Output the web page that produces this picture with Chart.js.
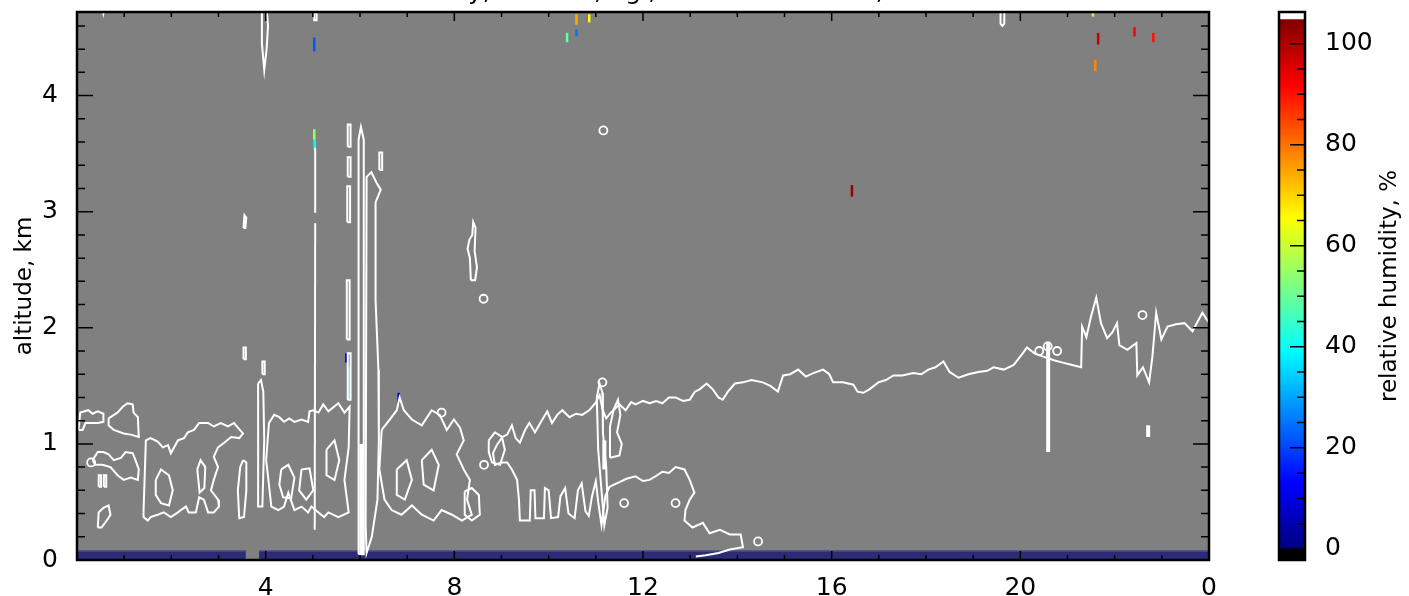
<!DOCTYPE html>
<html>
<head>
<meta charset="utf-8">
<script src="https://cdn.jsdelivr.net/npm/chart.js@4/dist/chart.umd.min.js"></script>
<style>
  html, body { margin: 0; padding: 0; background: #fff; overflow: hidden; }
  #wrap { position: relative; width: 1409px; height: 596px; }
  #main { position: absolute; left: 0; top: 0; }
  #bar { position: absolute; left: 1230px; top: 0; }
</style>
</head>
<body>
<div id="wrap">
  <canvas id="main" width="1229" height="596" style="width:1229px;height:596px"></canvas>
  <canvas id="bar" width="179" height="596" style="width:179px;height:596px"></canvas>
</div>
<script>
// axes
const xRange = [0, 24];
const yRange = [0, 4.72];
const xTickValues = [4, 8, 12, 16, 20, 24];
const xTickLabels = ['4', '8', '12', '16', '20', '0'];
const yTickValues = [0, 1, 2, 3, 4];
const yTickLabels = ['0', '1', '2', '3', '4'];

// colorbar
const cbRange = [-2.2, 106.3];
const rhMax = 104.8;
const cbTickValues = [0, 20, 40, 60, 80, 100];
const cbTickLabels = ['0', '20', '40', '60', '80', '100'];

const titleText = 'relative humidity, 24.6.13, agl, RH contour 80 %, UTC';

// lowest range gate (filled cells)
const stripSpans = [[0, 3.58], [3.86, 24]];
const stripTop = 0.078;

// isolated coloured cells: hour, bottom km, top km, RH %
const speckX    = [5.03, 10.39, 10.59, 10.59, 10.86, 21.54, 21.65, 21.59, 22.42, 22.82, 16.43, 5.03, 5.04, 5.71, 6.82, 5.78, 6.05];
const speckLow  = [4.38, 4.46, 4.51, 4.61, 4.63, 4.68, 4.44, 4.21, 4.51, 4.46, 3.13, 3.62, 3.53, 1.70, 1.35, 1.38, 0.06];
const speckHigh = [4.50, 4.54, 4.57, 4.70, 4.70, 4.72, 4.54, 4.31, 4.59, 4.54, 3.23, 3.71, 3.62, 1.78, 1.44, 1.66, 0.20];
const speckRH   = [22, 50, 25, 74, 65, 58, 97, 78, 92, 90, 102, 55, 40, 8, 10, 40, 40];

// small closed contours (hour, km)
const ringX = [7.73, 8.63, 20.40, 20.58, 20.78, 22.59, 8.62, 11.16, 11.60, 12.69, 14.44, 11.14, 0.30];
const ringY = [1.27, 0.82, 1.80, 1.84, 1.80, 2.11, 2.25, 3.70, 0.49, 0.49, 0.16, 1.53, 0.84];

// contour lines (hour, km)
const blTop = [[8.90,0.99],[9.02,1.06],[9.12,1.08],[9.22,1.16],[9.30,1.05],[9.39,1.01],[9.50,1.12],[9.59,1.18],[9.71,1.10],[9.85,1.20],[9.97,1.28],[10.07,1.18],[10.18,1.25],[10.29,1.29],[10.44,1.23],[10.58,1.26],[10.71,1.25],[10.86,1.29],[10.99,1.35],[11.08,1.42],[11.14,1.30],[11.22,1.22],[11.30,1.26],[11.40,1.30],[11.50,1.34],[11.63,1.29],[11.75,1.36],[11.84,1.34],[12.00,1.37],[12.14,1.35],[12.28,1.37],[12.41,1.35],[12.55,1.40],[12.69,1.40],[12.85,1.37],[12.99,1.38],[13.10,1.45],[13.20,1.47],[13.35,1.52],[13.48,1.47],[13.60,1.40],[13.69,1.38],[13.80,1.45],[13.95,1.52],[14.12,1.53],[14.30,1.55],[14.54,1.53],[14.70,1.50],[14.86,1.45],[14.97,1.59],[15.12,1.60],[15.29,1.64],[15.45,1.58],[15.61,1.61],[15.82,1.64],[15.95,1.60],[16.03,1.53],[16.24,1.53],[16.46,1.51],[16.55,1.45],[16.67,1.44],[16.80,1.47],[16.99,1.53],[17.15,1.55],[17.31,1.59],[17.50,1.59],[17.73,1.61],[17.90,1.60],[18.05,1.64],[18.20,1.66],[18.37,1.71],[18.50,1.62],[18.69,1.57],[18.90,1.60],[19.11,1.62],[19.30,1.63],[19.43,1.66],[19.65,1.64],[19.86,1.68],[20.07,1.79],[20.14,1.83],[20.30,1.78],[20.50,1.75],[20.71,1.72],[20.90,1.70],[21.10,1.68],[21.29,1.66],[21.31,2.01],[21.40,1.92],[21.50,2.10],[21.61,2.26],[21.71,2.04],[21.84,1.91],[21.95,1.96],[22.05,2.04],[22.10,1.85],[22.27,1.81],[22.46,1.87],[22.48,1.59],[22.60,1.66],[22.73,1.53],[22.80,1.75],[22.88,2.13],[22.99,1.90],[23.12,2.01],[23.30,2.03],[23.48,2.04],[23.65,1.97],[23.86,2.13],[24.05,2.01]];
const blLower = [[8.90,0.99],[8.82,0.92],[8.86,0.82],[9.00,0.84],[9.12,0.84],[9.22,0.78],[9.33,0.69],[9.37,0.52],[9.39,0.34],[9.60,0.34],[9.62,0.60],[9.70,0.60],[9.72,0.36],[9.90,0.36],[9.92,0.62],[10.00,0.60],[10.05,0.36],[10.20,0.37],[10.25,0.55],[10.35,0.62],[10.42,0.40],[10.55,0.36],[10.62,0.60],[10.70,0.66],[10.78,0.42],[10.85,0.38],[10.92,0.55],[11.00,0.68],[11.05,0.50],[11.12,0.30],[11.20,0.55],[11.29,0.63],[11.50,0.67],[11.65,0.70],[11.84,0.72],[12.00,0.68],[12.14,0.69],[12.30,0.73],[12.41,0.76],[12.55,0.75],[12.69,0.80],[12.88,0.78],[12.99,0.69],[13.09,0.58],[12.99,0.52],[12.90,0.43],[12.88,0.34],[13.05,0.28],[13.27,0.32],[13.41,0.23],[13.63,0.26],[13.84,0.22],[14.07,0.22],[14.12,0.11],[13.84,0.09],[13.60,0.06],[13.33,0.04],[13.12,0.03]];
const vert5a = [[5.05,3.55],[5.05,2.99]];
const vert5b = [[5.05,2.90],[5.04,0.26]];
const top5 = [[5.03,4.75],[5.03,4.65],[5.08,4.65],[5.08,4.75]];
const top4 = [[3.92,4.75],[3.92,4.45],[3.97,4.22],[4.02,4.40],[4.05,4.60],[4.02,4.75]];
const top19 = [[19.58,4.75],[19.58,4.62],[19.62,4.60],[19.66,4.62],[19.66,4.75]];
const top0 = [[0.54,4.75],[0.56,4.71],[0.58,4.75]];
const vert20 = [[20.59,0.93],[20.59,1.88]];
const thick6 = [[6.03,0.05],[6.03,1.00]];
const thick11 = [[11.18,0.78],[11.18,1.03]];
const blob22 = [[22.71,1.06],[22.71,1.16]];

const loopA = [[0.03,1.12],[0.07,1.27],[0.24,1.29],[0.33,1.26],[0.44,1.28],[0.56,1.26],[0.56,1.19],[0.44,1.18],[0.18,1.18],[0.12,1.12]];
const loopB = [[0.67,1.22],[0.86,1.27],[0.97,1.32],[1.07,1.35],[1.18,1.34],[1.20,1.27],[1.29,1.23],[1.31,1.06],[1.14,1.08],[0.99,1.09],[0.78,1.12],[0.67,1.16]];
const loopC = [[0.33,0.86],[0.44,0.93],[0.56,0.93],[0.67,0.91],[0.78,0.86],[0.93,0.88],[1.03,0.93],[1.18,0.92],[1.24,0.86],[1.31,0.78],[1.29,0.69],[1.14,0.71],[0.99,0.69],[0.86,0.73],[0.71,0.80],[0.54,0.82],[0.39,0.82]];
const loopC4 = [[0.44,0.28],[0.46,0.41],[0.56,0.45],[0.67,0.47],[0.71,0.39],[0.63,0.34],[0.52,0.28]];
const loopC5 = [[0.46,0.63],[0.46,0.73],[0.51,0.73],[0.51,0.63]];
const loopC6 = [[0.57,0.63],[0.57,0.73],[0.62,0.73],[0.62,0.63]];
const loopD = [[1.41,0.41],[1.46,1.03],[1.56,1.05],[1.71,1.02],[1.82,0.97],[1.93,0.99],[1.99,0.92],[2.14,1.03],[2.27,1.05],[2.35,1.10],[2.48,1.12],[2.59,1.18],[2.78,1.18],[2.90,1.15],[3.05,1.18],[3.20,1.15],[3.33,1.18],[3.41,1.14],[3.52,1.09],[3.44,1.05],[3.27,1.06],[3.12,1.01],[2.99,0.97],[2.90,0.89],[2.99,0.80],[2.90,0.69],[2.84,0.60],[2.99,0.52],[3.01,0.46],[2.90,0.41],[2.78,0.41],[2.69,0.52],[2.59,0.54],[2.52,0.41],[2.37,0.41],[2.31,0.46],[2.20,0.43],[2.14,0.41],[1.99,0.37],[1.84,0.41],[1.71,0.39],[1.56,0.37],[1.50,0.34],[1.41,0.37]];
const loopD2 = [[1.67,0.69],[1.78,0.78],[1.95,0.73],[2.03,0.60],[1.95,0.47],[1.78,0.49],[1.67,0.56]];
const loopD3 = [[2.55,0.78],[2.62,0.86],[2.72,0.80],[2.70,0.62],[2.60,0.58]];
const loopE = [[3.52,0.86],[3.59,0.84],[3.59,0.60],[3.54,0.37],[3.44,0.36],[3.41,0.60],[3.46,0.80]];
const loopV4 = [[3.84,1.52],[3.90,1.55],[3.95,1.45],[3.97,1.04],[3.93,0.46],[3.85,0.46],[3.84,1.00]];
const loopF = [[4.01,0.86],[4.07,1.18],[4.18,1.25],[4.29,1.23],[4.39,1.19],[4.50,1.22],[4.61,1.19],[4.76,1.21],[4.90,1.19],[4.93,1.28],[5.01,1.29],[5.12,1.27],[5.22,1.34],[5.33,1.28],[5.54,1.35],[5.67,1.27],[5.78,1.32],[5.76,0.97],[5.67,0.69],[5.76,0.41],[5.54,0.37],[5.33,0.41],[5.24,0.37],[5.12,0.41],[4.97,0.46],[4.90,0.41],[4.76,0.46],[4.61,0.43],[4.48,0.58],[4.39,0.46],[4.27,0.43],[4.12,0.46],[4.05,0.72]];
const loopF2 = [[4.33,0.78],[4.48,0.82],[4.61,0.71],[4.54,0.53],[4.37,0.54],[4.29,0.65]];
const loopF3 = [[4.76,0.78],[4.93,0.79],[5.01,0.60],[4.86,0.52],[4.71,0.60]];
const loopF4 = [[5.29,0.95],[5.46,1.03],[5.56,0.86],[5.46,0.69],[5.29,0.73]];
const loopS1 = [[5.74,3.56],[5.74,3.75],[5.80,3.75],[5.80,3.56]];
const loopS2 = [[5.74,3.30],[5.74,3.47],[5.80,3.47],[5.80,3.30]];
const loopS3 = [[5.73,2.91],[5.73,3.22],[5.79,3.22],[5.79,2.91]];
const loopS4 = [[5.72,1.90],[5.72,2.41],[5.78,2.41],[5.78,1.90]];
const loopS5 = [[5.74,1.38],[5.74,1.78],[5.80,1.78],[5.80,1.38]];
const loop6a = [[5.97,0.05],[5.97,3.62],[6.02,3.73],[6.08,3.62],[6.08,0.05]];
const loop6b = [[6.12,0.30],[6.14,3.30],[6.24,3.34],[6.35,3.25],[6.44,3.19],[6.33,3.08],[6.33,2.24],[6.39,1.64],[6.40,1.03],[6.37,0.52],[6.25,0.20],[6.14,0.06]];
const loop6c = [[6.41,3.36],[6.41,3.51],[6.47,3.51],[6.47,3.36]];
const loopG = [[6.46,1.12],[6.63,1.21],[6.78,1.29],[6.84,1.40],[6.93,1.29],[7.10,1.21],[7.31,1.16],[7.52,1.29],[7.69,1.25],[7.84,1.12],[7.99,1.21],[8.12,1.14],[8.20,1.03],[8.05,0.91],[8.20,0.78],[8.33,0.69],[8.27,0.52],[8.37,0.39],[8.16,0.34],[7.95,0.39],[7.73,0.43],[7.56,0.34],[7.31,0.39],[7.10,0.47],[6.88,0.39],[6.67,0.43],[6.52,0.52],[6.41,0.78]];
const loopG2 = [[6.78,0.78],[6.99,0.86],[7.10,0.69],[6.95,0.52],[6.78,0.56]];
const loopG3 = [[7.31,0.86],[7.52,0.95],[7.67,0.82],[7.56,0.60],[7.35,0.65]];
const loopH1 = [[8.73,1.03],[8.86,1.10],[9.01,1.06],[9.07,0.95],[8.97,0.82],[8.80,0.84],[8.73,0.93]];
const loopH2 = [[8.22,0.59],[8.37,0.62],[8.52,0.56],[8.54,0.39],[8.37,0.34],[8.22,0.39]];
const loopV11 = [[11.02,1.40],[11.08,1.52],[11.14,1.44],[11.15,1.10],[11.22,0.80],[11.25,0.45],[11.18,0.30],[11.12,0.60],[11.05,0.95]];
const loopW11 = [[11.30,0.88],[11.30,1.15],[11.38,1.30],[11.47,1.38],[11.52,1.25],[11.45,1.10],[11.55,1.00],[11.50,0.90]];
const loopUp8 = [[8.35,2.41],[8.33,2.60],[8.28,2.68],[8.32,2.76],[8.38,2.80],[8.40,2.91],[8.45,2.86],[8.43,2.66],[8.48,2.52],[8.44,2.41]];
const loopUp3a = [[3.53,2.86],[3.57,2.86],[3.59,2.95],[3.55,2.97]];
const loopUp3b = [[3.53,1.73],[3.58,1.73],[3.58,1.83],[3.53,1.83]];
const loopUp3c = [[3.93,1.60],[3.98,1.60],[3.98,1.71],[3.93,1.71]];

const openLines = [blTop, blLower, vert5a, vert5b, top5, top4, top19, top0];
const thickLines = [vert20, thick6, thick11, blob22];
const closedLines = [loopA, loopB, loopC, loopC4, loopC5, loopC6, loopD, loopD2, loopD3, loopE, loopV4,
  loopF, loopF2, loopF3, loopF4, loopS1, loopS2, loopS3, loopS4, loopS5, loop6a, loop6b, loop6c,
  loopG, loopG2, loopG3, loopH1, loopH2, loopV11, loopW11, loopUp8, loopUp3a, loopUp3b, loopUp3c];

// ---- helpers ----
const FONT = "'DejaVu Sans', sans-serif";
Chart.defaults.font.family = FONT;
Chart.defaults.color = '#000';

function jet(t) {
    t = Math.min(1, Math.max(0, t));
    const c = v => Math.round(255 * Math.min(1, Math.max(0, v)));
    return 'rgb(' + c(1.5 - Math.abs(4 * t - 3)) + ',' + c(1.5 - Math.abs(4 * t - 2)) + ',' + c(1.5 - Math.abs(4 * t - 1)) + ')';
}

const toPts = arr => arr.map(([x, y]) => ({ x, y }));

function whiteLine(arr, width) {
    return { data: toPts(arr), borderColor: '#fff', borderWidth: width, pointRadius: 0, fill: false, order: 1 };
}

// no label overhang padding: the plot box is placed by the layout padding alone
function noOverhang(s) {
    s.paddingTop = 0; s.paddingBottom = 0; s.paddingLeft = 0; s.paddingRight = 0;
}

const datasets = [];
openLines.forEach(l => datasets.push(whiteLine(l, 2)));
closedLines.forEach(l => datasets.push(whiteLine(l.concat([l[0]]), 2)));
thickLines.forEach(l => datasets.push(whiteLine(l, 4)));
datasets.push({
    data: ringX.map((x, i) => ({ x, y: ringY[i] })),
    showLine: false, pointStyle: 'circle', pointRadius: 4,
    pointBorderColor: '#fff', pointBackgroundColor: 'rgba(0,0,0,0)', pointBorderWidth: 1.8, order: 1
});
speckX.forEach((x, i) => {
    datasets.push({
        data: [{ x, y: speckLow[i] }, { x, y: speckHigh[i] }],
        borderColor: jet(speckRH[i] / rhMax), borderWidth: 2.5, pointRadius: 0, fill: false, order: 2
    });
});
stripSpans.forEach(([a, b]) => {
    datasets.push({
        data: [{ x: a, y: stripTop }, { x: b, y: stripTop }],
        fill: 'origin', backgroundColor: 'rgb(44,44,118)', borderColor: 'rgb(74,74,138)',
        borderWidth: 1.5, pointRadius: 0, order: 3
    });
});

// gray background, inward ticks, frame and the clipped title
const mainDecor = {
    id: 'mainDecor',
    beforeDraw(chart) {
        const { ctx, chartArea: a } = chart;
        ctx.save();
        ctx.fillStyle = '#808080';
        ctx.fillRect(a.left, a.top, a.right - a.left, a.bottom - a.top);
        ctx.restore();
    },
    afterDraw(chart) {
        const { ctx, chartArea: a, scales: { x, y } } = chart;
        ctx.save();
        ctx.strokeStyle = '#000';
        ctx.lineWidth = 1.5;
        ctx.beginPath();
        for (let h = xRange[0]; h <= xRange[1]; h++) {
            const px = x.getPixelForValue(h);
            const len = h % 4 === 0 ? 9 : 5;
            ctx.moveTo(px, a.bottom); ctx.lineTo(px, a.bottom - len);
            ctx.moveTo(px, a.top); ctx.lineTo(px, a.top + len);
        }
        for (let k = 0; k / 5 < yRange[1]; k++) {
            const py = y.getPixelForValue(k / 5);
            const len = k % 5 === 0 ? 16 : 8;
            ctx.moveTo(a.left, py); ctx.lineTo(a.left + len, py);
            ctx.moveTo(a.right, py); ctx.lineTo(a.right - len, py);
        }
        ctx.stroke();
        ctx.lineWidth = 2.5;
        ctx.strokeRect(a.left, a.top, a.right - a.left, a.bottom - a.top);

        // title sits above the figure edge; only its descenders reach the canvas
        ctx.fillStyle = '#000';
        ctx.font = '25px ' + FONT;
        ctx.textBaseline = 'alphabetic';
        ctx.textAlign = 'left';
        const start = 468 - ctx.measureText('relative humidit').width;
        ctx.fillText(titleText, start, -1);
        ctx.restore();
    }
};

new Chart(document.getElementById('main'), {
    type: 'line',
    data: { datasets },
    options: {
        responsive: false,
        animation: false,
        events: [],
        layout: { padding: { left: 0, right: 20, top: 12, bottom: 0 } },
        plugins: { legend: { display: false }, tooltip: { enabled: false } },
        scales: {
            x: {
                type: 'linear', min: xRange[0], max: xRange[1],
                grid: { display: false }, border: { display: false },
                afterBuildTicks: s => { s.ticks = xTickValues.map(v => ({ value: v })); },
                afterFit: s => { s.height = 36; noOverhang(s); },
                ticks: { font: { size: 25, lineHeight: 1.2 }, padding: 5, maxRotation: 0, autoSkip: false,
                         callback: (v, i) => xTickLabels[i] }
            },
            y: {
                type: 'linear', min: yRange[0], max: yRange[1],
                grid: { display: false }, border: { display: false },
                afterBuildTicks: s => { s.ticks = yTickValues.map(v => ({ value: v })); },
                afterFit: s => { s.width = 77; noOverhang(s); },
                ticks: { font: { size: 25, lineHeight: 1 }, padding: 11, callback: (v, i) => yTickLabels[i] },
                title: { display: true, text: 'altitude, km', font: { size: 23 }, padding: { top: 11, bottom: 0 } }
            }
        }
    },
    plugins: [mainDecor]
});

// ---- colorbar ----
const barDecor = {
    id: 'barDecor',
    afterDraw(chart) {
        const { ctx, chartArea: a, scales: { y } } = chart;
        ctx.save();
        ctx.strokeStyle = '#000';
        ctx.lineWidth = 1.5;
        ctx.beginPath();
        for (let v = 0; v <= rhMax; v += 5) {
            const py = y.getPixelForValue(v);
            const len = v % 20 === 0 ? 15 : 8;
            ctx.moveTo(a.right, py); ctx.lineTo(a.right - len, py);
        }
        ctx.stroke();
        ctx.lineWidth = 2.5;
        ctx.strokeRect(a.left, a.top, a.right - a.left, a.bottom - a.top);

        ctx.fillStyle = '#000';
        ctx.font = '23px ' + FONT;
        ctx.textAlign = 'center';
        ctx.textBaseline = 'middle';
        ctx.translate(160, (a.top + a.bottom) / 2);
        ctx.rotate(-Math.PI / 2);
        ctx.fillText('relative humidity, %', 0, 0);
        ctx.restore();
    }
};

function rhGradient(c) {
    const chart = c.chart;
    if (!chart.chartArea) return '#000';
    const y = chart.scales.y;
    const g = chart.ctx.createLinearGradient(0, y.getPixelForValue(0), 0, y.getPixelForValue(rhMax));
    for (let i = 0; i <= 40; i++) g.addColorStop(i / 40, jet(i / 40));
    return g;
}

new Chart(document.getElementById('bar'), {
    type: 'bar',
    data: {
        labels: [''],
        datasets: [
            { data: [[cbRange[0], 0]], backgroundColor: '#000' },
            { data: [[0, rhMax]], backgroundColor: rhGradient },
            { data: [[rhMax, cbRange[1]]], backgroundColor: '#fff' }
        ]
    },
    options: {
        responsive: false,
        animation: false,
        events: [],
        layout: { padding: { left: 49, right: 0, top: 12, bottom: 36 } },
        datasets: { bar: { grouped: false, barPercentage: 1, categoryPercentage: 1, borderWidth: 0 } },
        plugins: { legend: { display: false }, tooltip: { enabled: false } },
        scales: {
            x: { display: false },
            y: {
                position: 'right', min: cbRange[0], max: cbRange[1],
                grid: { display: false }, border: { display: false },
                afterBuildTicks: s => { s.ticks = cbTickValues.map(v => ({ value: v })); },
                afterFit: s => { s.width = 104; noOverhang(s); },
                ticks: { font: { size: 25, lineHeight: 1 }, padding: 12, callback: (v, i) => cbTickLabels[i] }
            }
        }
    },
    plugins: [barDecor]
});
</script>
</body>
</html>
